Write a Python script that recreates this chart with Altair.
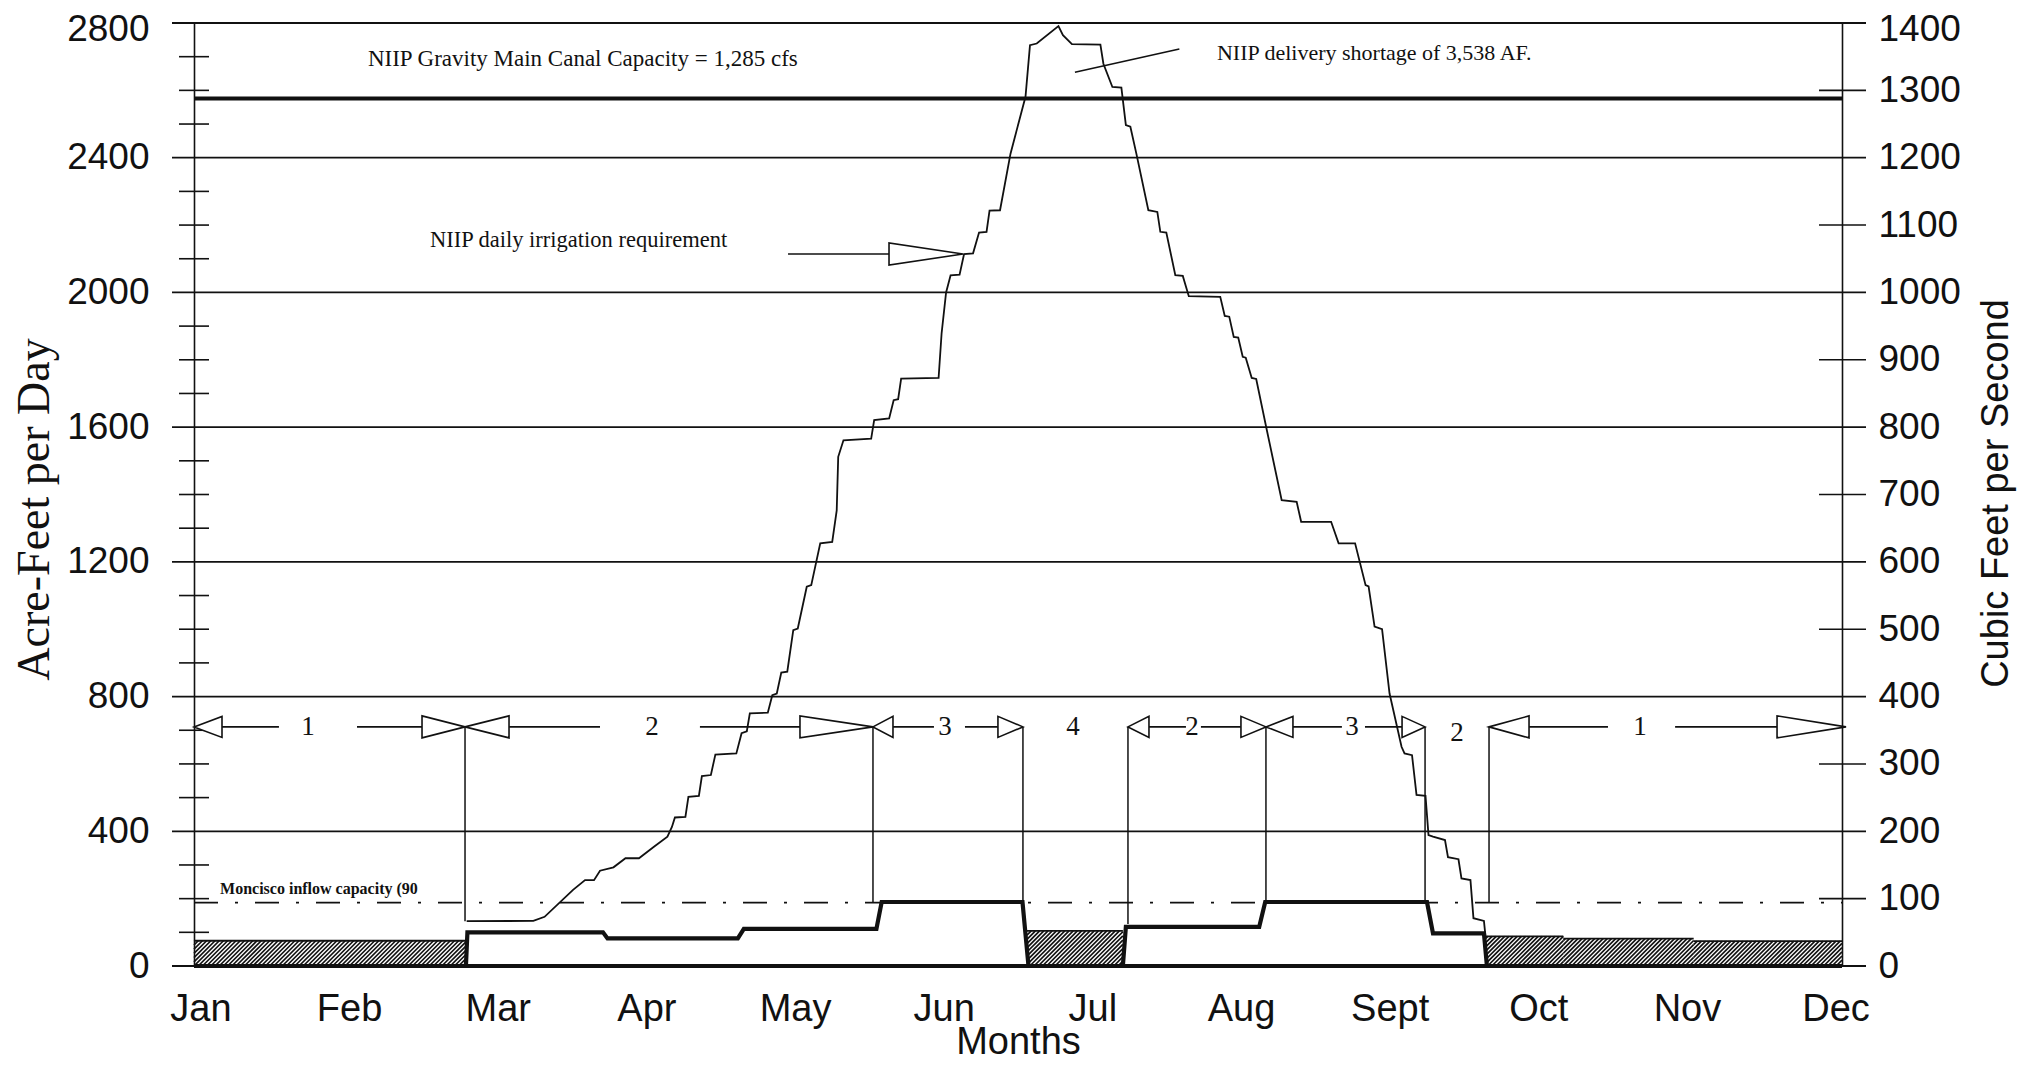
import altair as alt
import pandas as pd
import numpy as np

# ---------------- data ----------------
MONTHS = ["Jan", "Feb", "Mar", "Apr", "May", "Jun", "Jul", "Aug", "Sept", "Oct", "Nov", "Dec"]
MONTH_FIRST, MONTH_LAST = 0.043, 10.957   # where the first and last month labels sit

# NIIP daily irrigation requirement (acre-feet per day); x in month units (Jan=0 ... Dec=11)
req_m = [1.82, 2.265, 2.34, 2.53, 2.61, 2.67, 2.71, 2.80, 2.88, 2.97, 3.07, 3.16, 3.19, 3.21, 3.28,
         3.30, 3.37, 3.39, 3.45, 3.48, 3.62, 3.655, 3.69, 3.71, 3.83, 3.86, 3.89, 3.92, 3.96, 4.00,
         4.03, 4.09, 4.12, 4.18, 4.26, 4.29, 4.30, 4.335, 4.52, 4.54, 4.64, 4.67, 4.70, 4.72, 4.97,
         4.99, 5.02, 5.05, 5.11, 5.14, 5.20, 5.24, 5.29, 5.31, 5.38, 5.45, 5.55, 5.58, 5.625, 5.77,
         5.80, 5.86, 6.05, 6.07, 6.13, 6.19, 6.22, 6.25, 6.29, 6.37, 6.43, 6.45, 6.49, 6.55, 6.60,
         6.64, 6.85, 6.88, 6.91, 6.94, 6.97, 7.00, 7.02, 7.06, 7.09, 7.16, 7.26, 7.36, 7.39, 7.59,
         7.64, 7.75, 7.82, 7.84, 7.88, 7.93, 7.98, 8.06, 8.08, 8.13, 8.16, 8.22, 8.24, 8.27, 8.35,
         8.37, 8.44, 8.46, 8.52, 8.54, 8.61, 8.62]
req_af = [133, 134, 146, 226, 255, 255, 283, 293, 320, 320, 354, 384, 413, 441, 443,
          502, 505, 564, 567, 628, 631, 691, 697, 750, 752, 804, 809, 871, 874, 997,
          1002, 1126, 1131, 1255, 1259, 1353, 1512, 1561, 1566, 1621, 1626, 1680, 1683, 1744, 1746,
          1878, 2000, 2051, 2053, 2114, 2116, 2178, 2180, 2243, 2244, 2412, 2581, 2734, 2739, 2791,
          2764, 2737, 2736, 2679, 2610, 2608, 2497, 2492, 2412, 2244, 2239, 2180, 2178, 2051, 2049,
          1989, 1987, 1930, 1928, 1868, 1866, 1809, 1806, 1746, 1743, 1593, 1383, 1378, 1319, 1319,
          1255, 1255, 1131, 1127, 1008, 1000, 809, 651, 631, 626, 508, 505, 389, 384, 374,
          323, 317, 260, 255, 142, 134, 90]

# NIIP delivery (thick line), acre-feet per day
del_m = [0.0, 1.815, 1.825, 2.73, 2.76, 3.63, 3.67, 4.555, 4.59, 5.53, 5.57, 6.20, 6.22, 7.11,
         7.15, 8.23, 8.27, 8.61, 8.63, 11.0]
del_af = [0, 0, 100, 100, 82, 82, 110, 110, 190, 190, 0, 0, 116, 116,
          190, 190, 97, 97, 0, 0]

# Hatched blocks
hatch_x0 = [0.0, 5.56, 8.62, 9.14, 10.01]
hatch_x1 = [1.815, 6.20, 9.14, 10.01, 11.0]
hatch_af = [75, 104, 88, 81, 74]

CANAL_AF = 2576      # 1,285 cfs
MONCISCO_AF = 188    # Moncisco inflow capacity
MARK_AF = 710        # level of the period markers

# period boundaries
bound_m = [1.809, 4.532, 5.533, 6.234, 7.155, 8.217, 8.644]
bound_lo = [133, 190, 190, 125, 190, 190, 190]

# period numbers
period_txt = ["1", "2", "3", "4", "2", "3", "2", "1"]
period_m = [0.761, 3.057, 5.013, 5.867, 6.661, 7.729, 8.430, 9.652]
period_af = [710, 710, 710, 710, 710, 710, 693, 710]

# marker dash segments
seg_x0 = [0.187, 1.088, 2.103, 3.377, 4.666, 5.146, 6.374, 6.721, 7.335, 7.816, 8.911, 9.886]
seg_x1 = [0.567, 1.522, 2.710, 4.045, 4.939, 5.366, 6.621, 6.988, 7.662, 8.063, 9.438, 10.566]

# arrow heads: tip position, direction, width px, height px
arr_m = [0.0, 1.809, 1.809, 4.532, 4.532, 5.533, 6.234, 7.155, 7.155, 8.217, 8.644, 11.027, 5.133]
arr_af = [710] * 12 + [2114]
arr_dir = ["L", "R", "L", "R", "L", "R", "L", "R", "L", "R", "L", "R", "R"]
arr_w = [28, 43, 44, 73, 20, 25, 21, 25, 27, 23, 40, 69, 74]
arr_h = [21, 22, 22, 22, 21, 21, 21, 21, 21, 21, 22, 22, 22]

# annotation texts
ann_txt = ["NIIP Gravity Main Canal Capacity = 1,285 cfs",
           "NIIP delivery shortage of 3,538 AF.",
           "NIIP daily irrigation requirement"]
ann_m = [1.161, 6.828, 1.575]
ann_af = [2693, 2712, 2157]
ann_size = [23, 22, 22.5]

# ---------------- layout ----------------
W, H = 1648, 943
PXM = W / 11.0
PYA = H / 2800.0

xs = alt.Scale(domain=[0, 11], nice=False, zero=False)
ys = alt.Scale(domain=[0, 2800], nice=False, zero=False)
BLACK = "#111111"

step = (MONTH_LAST - MONTH_FIRST) / 11.0
month_pos = [MONTH_FIRST + i * step for i in range(12)]
label_expr = ("[" + ",".join("'%s'" % m for m in MONTHS) + "][round((datum.value - %.5f) / %.6f)]"
              % (MONTH_FIRST, step))
x_axis = alt.Axis(values=month_pos, labelExpr=label_expr, labelFontSize=38,
                  labelFont="Liberation Sans", labelColor=BLACK, labelPadding=24,
                  labelFlush=False, labelOverlap=False, ticks=False, domain=False, grid=False,
                  title="Months", titleFont="Liberation Sans", titleFontSize=38,
                  titleFontWeight="normal", titleColor=BLACK, titleY=87,
                  titleBaseline="alphabetic", titleAlign="center")
top_shift = {"condition": {"test": "datum.value >= 2800", "value": 6}, "value": 0}
left_axis = alt.Axis(orient="left", values=list(range(0, 2801, 400)), format="d", labelFontSize=37,
                     labelFont="Liberation Sans", labelColor=BLACK, labelPadding=45,
                     labelOffset=top_shift,
                     labelFlush=False, labelOverlap=False, ticks=False, domain=True,
                     domainColor=BLACK, domainWidth=1.6, grid=False,
                     title="Acre-Feet per Day", titleFont="Liberation Serif", titleFontSize=46,
                     titleFontWeight="normal", titleColor=BLACK, titleX=-160, titleY=486,
                     titleAngle=270, titleAlign="center", titleBaseline="middle")
right_axis = alt.Axis(orient="right", values=list(range(0, 2801, 200)),
                      labelExpr="format(datum.value / 2, 'd')", labelFontSize=37,
                      labelFont="Liberation Sans", labelColor=BLACK, labelPadding=36,
                      labelOffset=top_shift,
                      labelFlush=False, labelOverlap=False, ticks=False, domain=True,
                      domainColor=BLACK, domainWidth=1.6, grid=False,
                      title="Cubic Feet per Second", titleFont="Liberation Sans",
                      titleFontSize=38, titleFontWeight="normal", titleColor=BLACK,
                      titleX=154, titleY=470, titleAngle=270, titleAlign="center",
                      titleBaseline="middle")

layers = []

# hatch lines (45 degrees), computed from the hatched blocks
KK = PYA / PXM
SP = 4.2 / PXM
hx, hx2, hy, hy2 = [], [], [], []
for a, b, h in zip(hatch_x0, hatch_x1, hatch_af):
    n0 = int(np.floor((a - h * KK) / SP)) - 1
    n1 = int(np.ceil(b / SP)) + 1
    for n in range(n0, n1 + 1):
        c = n * SP
        x0, y0 = c, 0.0
        x1, y1 = c + h * KK, float(h)
        if x0 < a:
            y0 = (a - c) / KK
            x0 = a
        if x1 > b:
            y1 = (b - c) / KK
            x1 = b
        if y1 > y0 and x1 > x0:
            hx.append(x0); hx2.append(x1); hy.append(y0); hy2.append(y1)
hatch_df = pd.DataFrame({"x": hx, "x2": hx2, "y": hy, "y2": hy2})
layers.append(alt.Chart(hatch_df).mark_rule(color=BLACK, strokeWidth=1.7).encode(
    x=alt.X("x:Q", scale=xs, axis=x_axis), x2="x2:Q",
    y=alt.Y("y:Q", scale=ys, axis=None), y2="y2:Q"))

# hatch top outlines
htop = pd.DataFrame({"x": hatch_x0, "x2": hatch_x1, "y": hatch_af})
layers.append(alt.Chart(htop).mark_rule(color=BLACK, strokeWidth=1.8).encode(
    x=alt.X("x:Q", scale=xs, axis=x_axis), x2="x2:Q",
    y=alt.Y("y:Q", scale=ys, axis=None)))

# major gridlines (extend as outer ticks on both sides) -- carries left axis
grid_df = pd.DataFrame({"v": list(range(0, 2801, 400))})
layers.append(alt.Chart(grid_df).mark_rule(color=BLACK, strokeWidth=1.8).encode(
    x=alt.value(-22), x2=alt.value(W + 24),
    y=alt.Y("v:Q", scale=ys, axis=left_axis)))

# right-side minor ticks (odd hundreds of cfs) -- carries right axis
rt_df = pd.DataFrame({"v": list(range(200, 2801, 400))})
layers.append(alt.Chart(rt_df).mark_rule(color=BLACK, strokeWidth=1.6).encode(
    x=alt.value(W - 23), x2=alt.value(W + 24),
    y=alt.Y("v:Q", scale=ys, axis=right_axis)))

# left minor ticks every 100 AF, crossing the axis
lt_df = pd.DataFrame({"v": [v for v in range(100, 2800, 100) if v % 400 != 0]})
layers.append(alt.Chart(lt_df).mark_rule(color=BLACK, strokeWidth=1.6).encode(
    x=alt.value(-15), x2=alt.value(15),
    y=alt.Y("v:Q", scale=ys, axis=None)))

# canal capacity line
layers.append(alt.Chart(pd.DataFrame({"x": [0], "x2": [11], "v": [CANAL_AF]})).mark_rule(
    color=BLACK, strokeWidth=4).encode(
    x=alt.X("x:Q", scale=xs, axis=x_axis), x2="x2:Q",
    y=alt.Y("v:Q", scale=ys, axis=None)))

# Moncisco inflow capacity dash-dot
layers.append(alt.Chart(pd.DataFrame({"x": [0], "x2": [11], "v": [MONCISCO_AF]})).mark_rule(
    color=BLACK, strokeWidth=1.8, strokeDash=[24, 17, 3, 17]).encode(
    x=alt.X("x:Q", scale=xs, axis=x_axis), x2="x2:Q",
    y=alt.Y("v:Q", scale=ys, axis=None)))

# period boundary verticals
bd_df = pd.DataFrame({"x": bound_m, "lo": bound_lo, "hi": [MARK_AF] * len(bound_m)})
layers.append(alt.Chart(bd_df).mark_rule(color=BLACK, strokeWidth=1.5).encode(
    x=alt.X("x:Q", scale=xs, axis=x_axis),
    y=alt.Y("lo:Q", scale=ys, axis=None), y2="hi:Q"))

# marker dash segments
sg_df = pd.DataFrame({"x": seg_x0, "x2": seg_x1, "v": [MARK_AF] * len(seg_x0)})
layers.append(alt.Chart(sg_df).mark_rule(color=BLACK, strokeWidth=1.6).encode(
    x=alt.X("x:Q", scale=xs, axis=x_axis), x2="x2:Q",
    y=alt.Y("v:Q", scale=ys, axis=None)))

# irrigation-requirement arrow shaft and shortage leader line
ln_df = pd.DataFrame({"x": [3.965, 5.880], "x2": [4.64, 6.577],
                      "y": [2114, 2654], "y2": [2114, 2723]})
layers.append(alt.Chart(ln_df).mark_rule(color=BLACK, strokeWidth=1.6).encode(
    x=alt.X("x:Q", scale=xs, axis=x_axis), x2="x2:Q",
    y=alt.Y("y:Q", scale=ys, axis=None), y2="y2:Q"))

# demand curve
req_df = pd.DataFrame({"m": req_m, "v": req_af, "i": range(len(req_m))})
layers.append(alt.Chart(req_df).mark_line(color=BLACK, strokeWidth=1.8).encode(
    x=alt.X("m:Q", scale=xs, axis=x_axis),
    y=alt.Y("v:Q", scale=ys, axis=None), order="i:Q"))

# delivery (thick)
del_df = pd.DataFrame({"m": del_m, "v": del_af, "i": range(len(del_m))})
layers.append(alt.Chart(del_df).mark_line(color=BLACK, strokeWidth=4.2, strokeJoin="miter").encode(
    x=alt.X("m:Q", scale=xs, axis=x_axis),
    y=alt.Y("v:Q", scale=ys, axis=None), order="i:Q"))

# bottom thick line
layers.append(alt.Chart(pd.DataFrame({"x": [0], "x2": [11], "v": [0]})).mark_rule(
    color=BLACK, strokeWidth=4.2).encode(
    x=alt.X("x:Q", scale=xs, axis=x_axis), x2="x2:Q",
    y=alt.Y("v:Q", scale=ys, axis=None)))

# arrow heads (open triangles)
shapes, sizes = [], []
for d, w, h in zip(arr_dir, arr_w, arr_h):
    hh = (h / 2.0) / w
    if d == "R":
        shapes.append("M0,0L-1,%.4fL-1,%.4fZ" % (-hh, hh))
    else:
        shapes.append("M0,0L1,%.4fL1,%.4fZ" % (-hh, hh))
    sizes.append(4.0 * w * w)
ar_df = pd.DataFrame({"m": arr_m, "v": arr_af, "shape": shapes, "size": sizes})
layers.append(alt.Chart(ar_df).mark_point(filled=True, fill="white", stroke=BLACK,
                                          strokeWidth=1.6, opacity=1).encode(
    x=alt.X("m:Q", scale=xs, axis=x_axis),
    y=alt.Y("v:Q", scale=ys, axis=None),
    shape=alt.Shape("shape:N", scale=None),
    size=alt.Size("size:Q", scale=None)))

# period numbers
pl_df = pd.DataFrame({"m": period_m, "v": period_af, "t": period_txt})
layers.append(alt.Chart(pl_df).mark_text(font="Liberation Serif", fontSize=27, color=BLACK,
                                         align="center", baseline="middle").encode(
    x=alt.X("m:Q", scale=xs, axis=x_axis),
    y=alt.Y("v:Q", scale=ys, axis=None), text="t:N"))

# annotation texts
an_df = pd.DataFrame({"m": ann_m, "v": ann_af, "t": ann_txt, "s": ann_size})
layers.append(alt.Chart(an_df).mark_text(font="Liberation Serif", color=BLACK,
                                         align="left", baseline="middle").encode(
    x=alt.X("m:Q", scale=xs, axis=x_axis),
    y=alt.Y("v:Q", scale=ys, axis=None), text="t:N",
    size=alt.Size("s:Q", scale=None)))

mo_df = pd.DataFrame({"m": [0.174], "v": [230], "t": ["Moncisco inflow capacity (90"]})
layers.append(alt.Chart(mo_df).mark_text(font="Liberation Serif", fontSize=16, fontWeight="bold",
                                         color=BLACK, align="left", baseline="middle").encode(
    x=alt.X("m:Q", scale=xs, axis=x_axis),
    y=alt.Y("v:Q", scale=ys, axis=None), text="t:N"))

chart = alt.layer(*layers).resolve_scale(y="independent").properties(
    width=W, height=H,
    padding={"left": 186, "top": 15, "right": 176, "bottom": 94},
    autosize=alt.AutoSizeParams(type="none"),
    background="white",
).configure_view(stroke=None)

chart.save("out.html", embed_options={"renderer": "svg", "actions": False})
